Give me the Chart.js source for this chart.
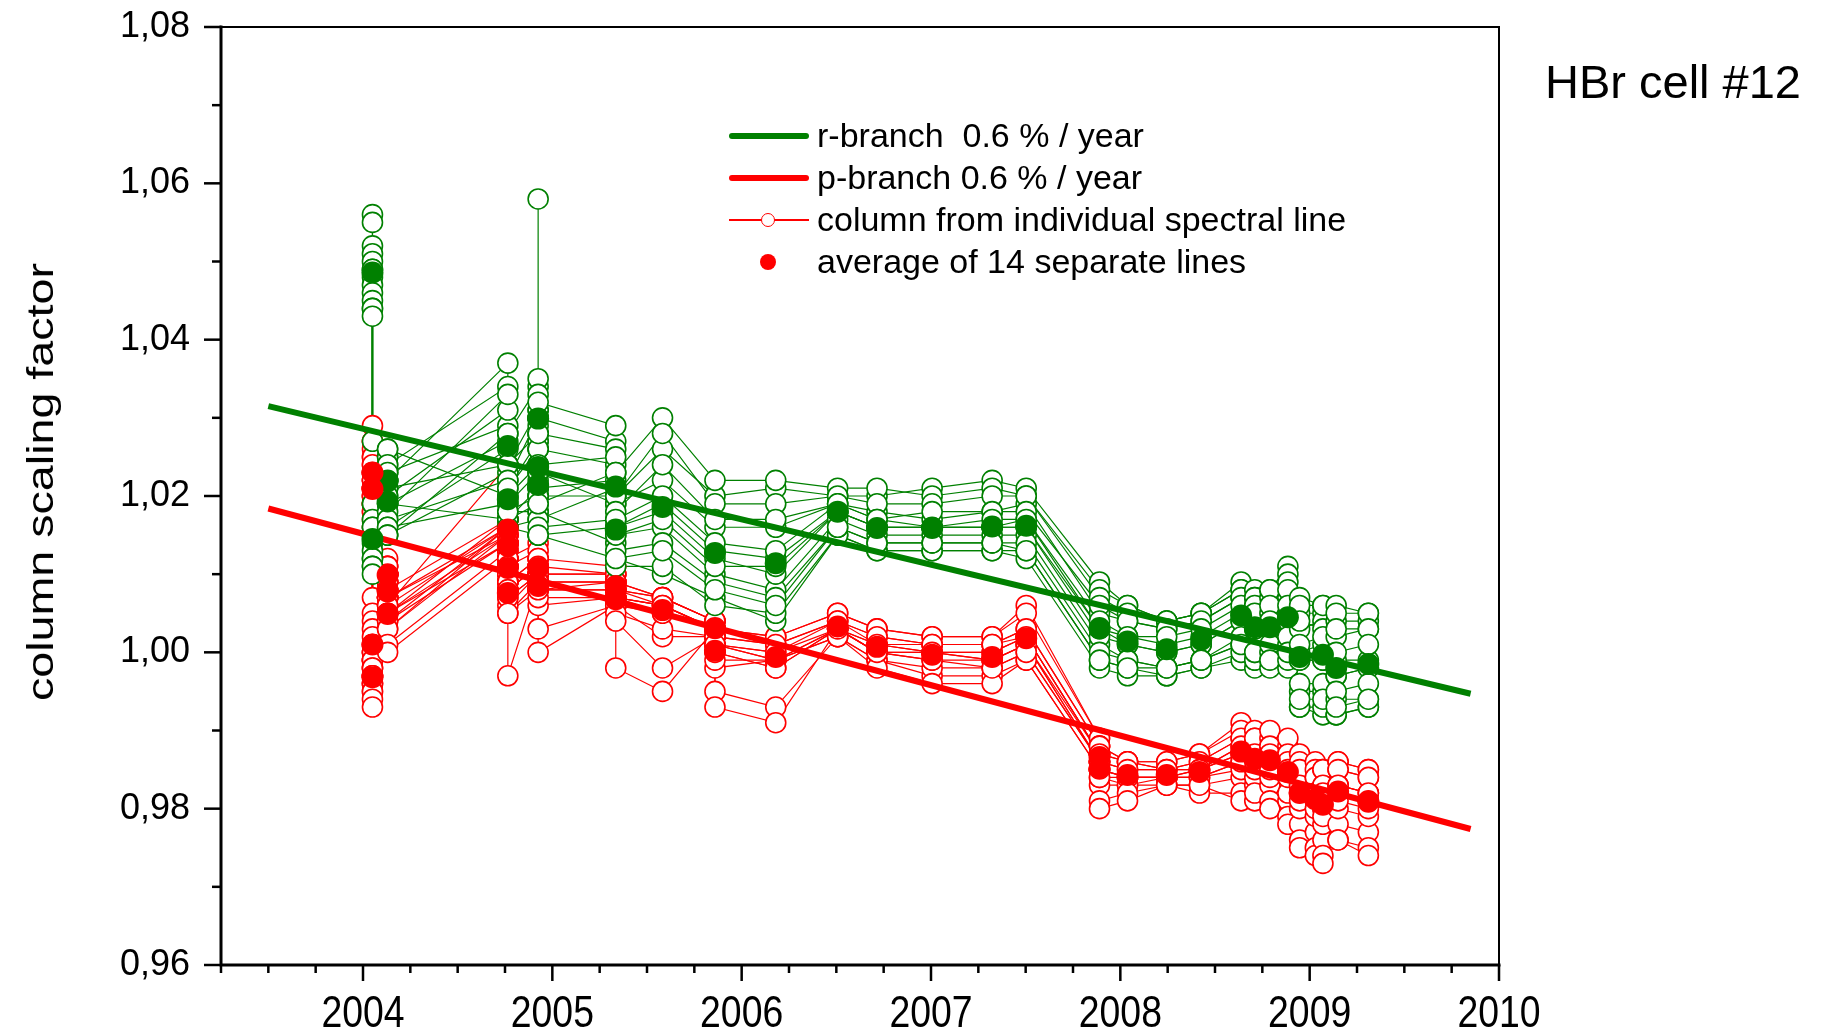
<!DOCTYPE html>
<html>
<head>
<meta charset="utf-8">
<script src="https://cdn.jsdelivr.net/npm/chart.js@4"></script>
<style>
  body { margin: 0; background: #fff; }
  #wrap { position: relative; width: 1825px; height: 1032px; font-family: "Liberation Sans", Arial, sans-serif; color: #000; }
  #wrap div { position: absolute; white-space: pre; }
  .ytitle { left: 41px; top: 482px; font-size: 37px; transform: translate(-50%, -50%) rotate(-90deg) scaleX(1.26); }
  .cell { left: 1545px; top: 54px; font-size: 47px; line-height: 56px; }
  .lg { left: 817px; font-size: 34px; line-height: 34px; }
</style>
</head>
<body>
<div id="wrap">
  <canvas id="chart" width="1825" height="1032"></canvas>
  <div class="ytitle">column scaling factor</div>
  <div class="cell">HBr cell #12</div>

  <div style="left:729px;top:133px;width:80px;height:6px;background:#008000;border-radius:3px"></div>
  <div class="lg" style="top:118px">r-branch  0.6 % / year</div>
  <div style="left:729px;top:175px;width:80px;height:6px;background:#ff0000;border-radius:3px"></div>
  <div class="lg" style="top:160px">p-branch 0.6 % / year</div>
  <div style="left:729px;top:219px;width:80px;height:1.5px;background:#ff0000"></div>
  <div style="left:761px;top:213px;width:14px;height:14px;box-sizing:border-box;border:1.5px solid #ff0000;border-radius:50%;background:#fff"></div>
  <div class="lg" style="top:202px">column from individual spectral line</div>
  <div style="left:760px;top:254px;width:16px;height:16px;border-radius:50%;background:#ff0000"></div>
  <div class="lg" style="top:244px">average of 14 separate lines</div>
</div>

<script>
// r-branch (green): measurement dates, averages, 14 spectral lines each
const rDates = [2004.05, 2004.05, 2004.13, 2004.13, 2004.765, 2004.765, 2004.925, 2004.925, 2004.925,
  2005.335, 2005.335, 2005.582, 2005.859, 2006.18, 2006.507, 2006.715, 2007.006, 2007.323, 2007.503,
  2007.89, 2008.038, 2008.245, 2008.427, 2008.638, 2008.71, 2008.79, 2008.885, 2008.947, 2009.07, 2009.14, 2009.31];
const rAvg = [1.0486, 1.0145, 1.0219, 1.0193, 1.0264, 1.0196, 1.0237, 1.0299, 1.0214,
  1.0212, 1.0157, 1.0186, 1.0127, 1.0114, 1.0180, 1.0159, 1.0159, 1.0161, 1.0162,
  1.0031, 1.0014, 1.0004, 1.0016, 1.0047, 1.0032, 1.0032, 1.0045, 0.9994, 0.9997, 0.9980, 0.9985];
const rLines = [
  [1.056,1.055,1.052,1.051,1.050,1.049,1.049,1.048,1.047,1.046,1.045,1.044,1.044,1.043],
  [1.027,1.019,1.019,1.017,1.016,1.015,1.014,1.013,1.012,1.012,1.011,1.011,1.010,1.016],
  [1.026,1.025,1.025,1.024,1.023,1.023,1.022,1.022,1.021,1.021,1.020,1.019,1.017,1.015],
  [1.026,1.024,1.023,1.022,1.021,1.020,1.019,1.019,1.018,1.017,1.016,1.016,1.015,1.015],
  [1.020,1.034,1.029,1.037,1.024,1.031,1.017,1.027,1.033,1.022,1.026,1.019,1.028,1.023],
  [1.017,1.024,1.021,1.028,1.018,1.024,1.016,1.020,1.022,1.017,1.019,1.016,1.021,1.018],
  [1.021,1.031,1.026,1.034,1.020,1.028,1.015,1.024,1.030,1.019,1.023,1.017,1.027,1.018],
  [1.024,1.035,1.030,1.058,1.023,1.031,1.020,1.028,1.033,1.022,1.027,1.021,1.029,1.026],
  [1.018,1.030,1.023,1.032,1.017,1.026,1.015,1.021,1.028,1.016,1.020,1.015,1.024,1.019],
  [1.014,1.027,1.019,1.029,1.021,1.024,1.012,1.022,1.026,1.017,1.020,1.016,1.025,1.023],
  [1.012,1.020,1.015,1.023,1.016,1.019,1.011,1.016,1.020,1.013,1.015,1.012,1.018,1.017],
  [1.010,1.026,1.016,1.030,1.019,1.022,1.011,1.018,1.028,1.014,1.017,1.013,1.024,1.020],
  [1.007,1.020,1.010,1.022,1.013,1.016,1.006,1.012,1.019,1.009,1.011,1.008,1.017,1.014],
  [1.004,1.021,1.008,1.022,1.012,1.016,1.005,1.010,1.019,1.007,1.011,1.006,1.017,1.013],
  [1.015,1.020,1.017,1.021,1.018,1.019,1.015,1.018,1.020,1.016,1.018,1.016,1.019,1.019],
  [1.013,1.020,1.015,1.021,1.016,1.018,1.013,1.016,1.019,1.014,1.016,1.014,1.017,1.017],
  [1.013,1.021,1.015,1.020,1.016,1.017,1.013,1.016,1.019,1.014,1.016,1.014,1.018,1.016],
  [1.013,1.022,1.015,1.021,1.016,1.018,1.013,1.016,1.020,1.014,1.016,1.014,1.018,1.017],
  [1.012,1.021,1.015,1.020,1.016,1.019,1.013,1.016,1.020,1.014,1.017,1.013,1.018,1.017],
  [0.998,1.009,1.001,1.008,1.003,1.005,0.999,1.002,1.007,1.000,1.003,0.999,1.006,1.004],
  [0.997,1.006,0.999,1.006,1.001,1.004,0.998,1.001,1.005,0.999,1.002,0.998,1.004,1.002],
  [0.997,1.004,0.998,1.004,1.000,1.003,0.997,1.000,1.004,0.998,1.001,0.998,1.003,1.002],
  [0.998,1.005,0.999,1.005,1.001,1.004,0.998,1.001,1.005,0.999,1.002,0.999,1.004,1.003],
  [0.999,1.009,1.001,1.008,1.004,1.007,1.000,1.004,1.008,1.002,1.005,1.001,1.007,1.006],
  [0.998,1.008,0.999,1.007,1.003,1.006,0.999,1.003,1.007,1.000,1.004,1.000,1.006,1.005],
  [0.999,1.008,1.000,1.007,1.003,1.005,0.998,1.003,1.008,1.001,1.004,0.999,1.006,1.004],
  [0.998,1.011,1.001,1.010,1.004,1.007,0.999,1.004,1.009,1.002,1.005,1.000,1.008,1.006],
  [0.993,1.007,0.995,1.005,0.999,1.003,0.993,0.999,1.006,0.996,1.000,0.994,1.004,1.001],
  [0.992,1.006,0.995,1.005,0.999,1.004,0.993,0.999,1.006,0.996,1.001,0.994,1.003,1.002],
  [0.992,1.006,0.994,1.004,0.997,1.002,0.992,0.997,1.005,0.995,0.999,0.993,1.003,1.000],
  [0.993,1.005,0.994,1.004,0.998,1.003,0.993,0.998,1.005,0.996,0.999,0.994,1.003,1.001]
];

// p-branch (red)
const pDates = [2004.05, 2004.05, 2004.05, 2004.05, 2004.13, 2004.13, 2004.13,
  2004.765, 2004.765, 2004.765, 2004.765, 2004.925, 2004.925, 2005.335, 2005.335, 2005.582,
  2005.859, 2005.859, 2006.18, 2006.507, 2006.715, 2007.006, 2007.323, 2007.503, 2007.89, 2007.89,
  2008.038, 2008.245, 2008.418, 2008.638, 2008.71, 2008.79, 2008.885, 2008.947, 2009.03, 2009.07, 2009.15, 2009.31];
const pAvg = [1.0230, 1.0209, 1.0010, 0.9968, 1.0099, 1.0078, 1.0049,
  1.0157, 1.0136, 1.0108, 1.0076, 1.0108, 1.0085, 1.0085, 1.0068, 1.0054,
  1.0031, 1.0002, 0.9994, 1.0033, 1.0007, 0.9997, 0.9994, 1.0018, 0.9866, 0.9851,
  0.9843, 0.9843, 0.9847, 0.9873, 0.9864, 0.9862, 0.9847, 0.9820, 0.9812, 0.9805, 0.9822, 0.9809];
const pLines = [
  [1.029,1.027,1.026,1.025,1.024,1.023,1.023,1.022,1.022,1.021,1.021,1.020,1.019,1.018],
  [1.027,1.025,1.024,1.023,1.022,1.021,1.021,1.020,1.020,1.019,1.019,1.018,1.017,1.016],
  [1.007,1.005,1.004,1.003,1.002,1.001,1.001,1.000,1.000,0.999,0.999,0.998,0.997,0.996],
  [1.000,0.999,0.999,0.998,0.998,0.997,0.997,0.997,0.996,0.996,0.995,0.995,0.994,0.993],
  [1.012,1.011,1.011,1.010,1.010,1.010,1.010,1.010,1.009,1.009,1.009,1.010,1.010,1.008],
  [1.011,1.010,1.009,1.009,1.008,1.008,1.008,1.007,1.007,1.007,1.007,1.007,1.006,1.005],
  [1.008,1.007,1.007,1.006,1.006,1.005,1.005,1.005,1.004,1.004,1.003,1.003,1.001,1.000],
  [1.017,1.016,1.015,1.024,1.016,1.015,1.014,1.017,1.016,1.014,1.016,1.015,1.013,1.012],
  [1.016,1.015,1.014,1.017,1.014,1.013,1.012,1.015,1.014,1.012,1.014,1.013,1.011,1.010],
  [1.014,1.012,1.011,1.014,1.011,1.010,1.009,1.012,1.011,1.009,1.011,1.010,1.009,1.008],
  [1.012,1.009,1.008,1.011,1.008,1.007,1.005,1.009,1.008,1.006,1.008,1.007,1.005,0.997],
  [1.014,1.012,1.011,1.013,1.011,1.010,1.009,1.012,1.011,1.010,1.011,1.010,1.008,1.009],
  [1.012,1.010,1.009,1.011,1.008,1.008,1.006,1.010,1.009,1.007,1.009,1.008,1.003,1.000],
  [1.011,1.010,1.009,1.010,1.009,1.008,1.007,1.010,1.009,1.007,1.009,1.008,1.006,1.006],
  [1.009,1.008,1.007,1.009,1.007,1.006,1.006,1.008,1.007,1.005,1.008,1.007,1.004,0.998],
  [1.007,1.007,1.006,1.007,1.006,1.005,1.002,1.007,1.006,1.003,1.006,1.005,0.998,0.995],
  [1.004,1.004,1.003,1.004,1.003,1.003,1.002,1.004,1.003,1.002,1.003,1.003,1.002,1.003],
  [1.003,1.002,1.001,1.003,1.001,1.000,0.998,1.002,1.001,0.999,1.001,1.000,0.995,0.993],
  [1.002,1.001,1.000,1.002,0.999,0.998,0.999,1.001,1.000,0.999,0.999,0.998,0.993,0.991],
  [1.005,1.004,1.003,1.005,1.003,1.003,1.002,1.004,1.004,1.002,1.003,1.003,1.002,1.003],
  [1.003,1.002,1.001,1.003,1.000,1.001,0.999,1.002,1.001,0.999,1.000,1.000,0.998,1.000],
  [1.002,1.001,1.000,1.002,1.000,1.000,0.997,1.001,1.001,0.998,1.000,0.999,0.996,0.999],
  [1.002,1.001,1.000,1.002,0.999,1.000,0.997,1.001,1.001,0.998,0.999,0.999,0.996,0.998],
  [1.006,1.003,1.002,1.005,1.001,1.002,0.999,1.003,1.002,1.000,1.001,1.001,0.999,1.000],
  [0.989,0.988,0.987,0.989,0.986,0.987,0.985,0.988,0.987,0.986,0.987,0.986,0.985,0.986],
  [0.988,0.987,0.986,0.988,0.985,0.985,0.983,0.987,0.986,0.984,0.985,0.984,0.981,0.980],
  [0.986,0.986,0.985,0.986,0.984,0.984,0.983,0.986,0.985,0.983,0.984,0.984,0.982,0.981],
  [0.986,0.985,0.985,0.986,0.984,0.984,0.983,0.985,0.985,0.984,0.984,0.984,0.983,0.983],
  [0.987,0.986,0.985,0.987,0.984,0.985,0.983,0.986,0.985,0.984,0.985,0.984,0.982,0.983],
  [0.991,0.989,0.988,0.990,0.986,0.987,0.984,0.989,0.988,0.985,0.987,0.986,0.982,0.981],
  [0.990,0.988,0.987,0.989,0.985,0.987,0.983,0.989,0.987,0.984,0.986,0.985,0.981,0.982],
  [0.989,0.988,0.987,0.990,0.985,0.986,0.983,0.988,0.987,0.984,0.986,0.985,0.981,0.980],
  [0.988,0.987,0.985,0.989,0.984,0.985,0.981,0.987,0.986,0.982,0.985,0.984,0.979,0.978],
  [0.987,0.985,0.983,0.986,0.982,0.983,0.978,0.985,0.983,0.980,0.982,0.981,0.976,0.975],
  [0.986,0.984,0.982,0.985,0.981,0.982,0.977,0.984,0.982,0.979,0.981,0.980,0.975,0.974],
  [0.985,0.983,0.981,0.985,0.980,0.981,0.976,0.983,0.982,0.978,0.980,0.979,0.974,0.973],
  [0.986,0.985,0.983,0.986,0.982,0.983,0.978,0.985,0.983,0.980,0.982,0.981,0.976,0.976],
  [0.985,0.984,0.982,0.985,0.981,0.982,0.977,0.984,0.982,0.979,0.981,0.980,0.975,0.974]
];

// linear fits
const trendYears = [2003.5, 2009.85];
const rTrend = [1.0315, 0.9947];
const pTrend = [1.0184, 0.9774];

// ticks
const xTicks = [2004, 2005, 2006, 2007, 2008, 2009, 2010];
const yTicks = [0.96, 0.98, 1.00, 1.02, 1.04, 1.06, 1.08];

const GREEN = "#008000";
const RED = "#ff0000";

function lineSets(dates, lines, color, order) {
  const sets = [];
  for (let k = 0; k < 14; k++) {
    sets.push({
      data: dates.map((d, i) => ({ x: d, y: lines[i][k] })),
      showLine: true, borderColor: color, borderWidth: 1.2,
      pointRadius: 0, order: order
    });
  }
  return sets;
}

function circleSet(dates, lines, color, order) {
  const pts = [];
  dates.forEach((d, i) => lines[i].forEach((v) => pts.push({ x: d, y: v })));
  return {
    data: pts, showLine: false, pointRadius: 10, pointBorderWidth: 1.6,
    pointBorderColor: color, pointBackgroundColor: "#fff", order: order
  };
}

const datasets = [
  ...lineSets(pDates, pLines, RED, 8),
  ...lineSets(rDates, rLines, GREEN, 7),
  circleSet(pDates, pLines, RED, 6),
  circleSet(rDates, rLines, GREEN, 5),
  { data: trendYears.map((x, i) => ({ x, y: rTrend[i] })), showLine: true, borderColor: GREEN, borderWidth: 6, pointRadius: 0, order: 3 },
  { data: trendYears.map((x, i) => ({ x, y: pTrend[i] })), showLine: true, borderColor: RED, borderWidth: 6, pointRadius: 0, order: 3 },
  { data: rDates.map((x, i) => ({ x, y: rAvg[i] })), showLine: false, pointRadius: 11, pointBorderWidth: 0, pointBackgroundColor: GREEN, order: 2 },
  { data: pDates.map((x, i) => ({ x, y: pAvg[i] })), showLine: false, pointRadius: 11, pointBorderWidth: 0, pointBackgroundColor: RED, order: 1 }
];

// frame, major/minor ticks and the (condensed) year labels
const framePlugin = {
  id: "frame",
  afterDraw(chart) {
    const { ctx, chartArea: a, scales: { x, y } } = chart;
    ctx.save();
    ctx.strokeStyle = "#000";
    ctx.lineCap = "square";
    ctx.lineWidth = 2;
    ctx.beginPath();
    ctx.moveTo(a.left, a.top); ctx.lineTo(a.right, a.top); ctx.lineTo(a.right, a.bottom);
    ctx.stroke();
    ctx.lineWidth = 3;
    ctx.beginPath();
    ctx.moveTo(a.left, a.top); ctx.lineTo(a.left, a.bottom); ctx.lineTo(a.right, a.bottom);
    ctx.stroke();
    ctx.lineWidth = 2.5;
    ctx.lineCap = "butt";
    for (let i = 0; i <= 27; i++) {
      const px = x.getPixelForValue(2003.25 + i * 0.25);
      const len = (i + 1) % 4 === 0 ? 16 : 8;
      ctx.beginPath(); ctx.moveTo(px, a.bottom); ctx.lineTo(px, a.bottom + len); ctx.stroke();
    }
    for (let i = 0; i <= 12; i++) {
      const py = y.getPixelForValue(0.96 + i * 0.01);
      const len = i % 2 === 0 ? 17 : 9;
      ctx.beginPath(); ctx.moveTo(a.left, py); ctx.lineTo(a.left - len, py); ctx.stroke();
    }
    ctx.fillStyle = "#000";
    ctx.font = "44px 'Liberation Sans'";
    ctx.textAlign = "center";
    ctx.textBaseline = "alphabetic";
    xTicks.forEach((v) => {
      ctx.save();
      ctx.translate(x.getPixelForValue(v), a.bottom + 62);
      ctx.scale(0.85, 1);
      ctx.fillText(String(v), 0, 0);
      ctx.restore();
    });
    ctx.restore();
  }
};

new Chart(document.getElementById("chart"), {
  type: "scatter",
  data: { datasets },
  plugins: [framePlugin],
  options: {
    responsive: false,
    animation: false,
    devicePixelRatio: 1,
    events: [],
    layout: { autoPadding: false, padding: { top: 27, right: 326, left: 0, bottom: 0 } },
    plugins: { legend: { display: false }, tooltip: { enabled: false } },
    scales: {
      x: {
        type: "linear", min: 2003.25, max: 2010,
        grid: { display: false }, border: { display: false },
        afterBuildTicks: (s) => { s.ticks = xTicks.map((v) => ({ value: v })); },
        afterFit: (s) => { s.height = 67; s.paddingLeft = 0; s.paddingRight = 0; },
        ticks: { display: false }
      },
      y: {
        min: 0.96, max: 1.08,
        grid: { display: false }, border: { display: false },
        afterBuildTicks: (s) => { s.ticks = yTicks.map((v) => ({ value: v })); },
        afterFit: (s) => { s.width = 221; s.paddingTop = 0; s.paddingBottom = 0; },
        ticks: {
          padding: 23, color: "#000",
          font: { family: "'Liberation Sans'", size: 36 },
          callback: (v) => v.toFixed(2).replace(".", ",")
        }
      }
    }
  }
});
</script>
</body>
</html>
